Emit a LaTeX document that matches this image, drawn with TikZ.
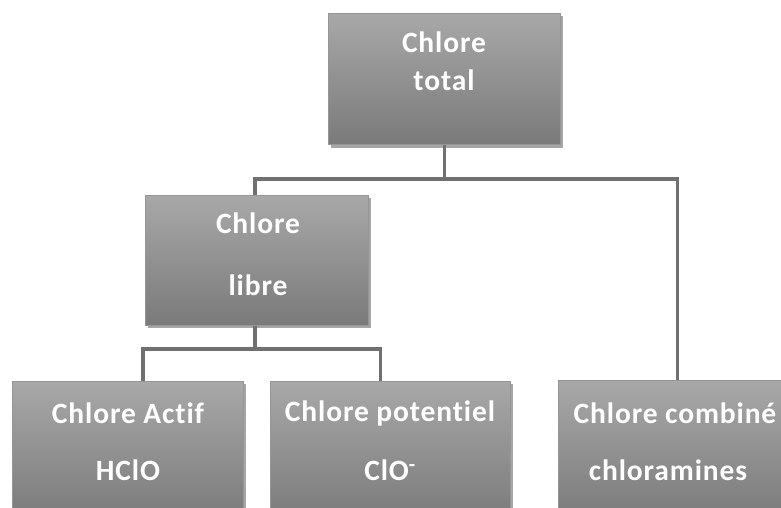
\documentclass[tikz,border=0pt]{standalone}
\usepackage{fontspec}
\setmainfont{Carlito}[LetterSpace=3, Ligatures=NoCommon]
\usetikzlibrary{calc}
\definecolor{boxtop}{RGB}{168,168,168}
\definecolor{boxbot}{RGB}{122,122,122}
\definecolor{linec}{RGB}{112,112,112}
\tikzset{
  gbox/.style={rectangle, draw={rgb,255:red,150;green,150;blue,150}, line width=1pt,
    top color=boxtop, bottom color=boxbot, inner sep=0pt, anchor=north west},
  shadowbox/.style={fill=black, opacity=0.35},
  conn/.style={draw=linec, line width=3.5pt},
  lbl/.style={text=white, font=\bfseries\fontsize{29.5}{32}\selectfont, inner sep=0pt}
}
\begin{document}
\begin{tikzpicture}[x=1pt,y=-1pt]
\useasboundingbox (0,0) rectangle (781,508);
\clip (0,0) rectangle (781,508);
% shadows
\fill[shadowbox] (331,16) rectangle (563,148);
\fill[shadowbox] (148,198) rectangle (371,328);
\fill[shadowbox] (15,384) rectangle (246,520);
\fill[shadowbox] (273,384) rectangle (513,520);
\fill[shadowbox] (561,384) rectangle (800,520);
% boxes
\node[gbox, minimum width=232pt, minimum height=131pt] (tot) at (328,13) {};
\node[gbox, minimum width=223pt, minimum height=130pt] (lib) at (145,195) {};
\node[gbox, minimum width=231pt, minimum height=140pt] (act) at (12,381) {};
\node[gbox, minimum width=240pt, minimum height=140pt] (pot) at (270,381) {};
\node[gbox, minimum width=238pt, minimum height=140pt] (comb) at (558,380) {};
% connectors
\coordinate (jt) at ($(tot.south)+(0,34)$);
\coordinate (jl) at ($(lib.south)+(-2,23)$);
\draw[conn] (tot.south) -- (jt);
\draw[conn] (jt) -| ([xshift=-2pt]lib.north);
\draw[conn] (jt) -| ([xshift=0pt]comb.north);
\draw[conn] ([xshift=-2pt]lib.south) -- (jl);
\draw[conn] (jl) -| ([xshift=15pt]act.north);
\draw[conn] (jl) -| ([xshift=-10pt]pot.north);
% labels
\node[lbl] (t1) at (444,42) {Chlore};
\node[lbl] (t2) at (444,80) {total};
\node[lbl] (l1) at (258,223) {Chlore};
\node[lbl] (l2) at (258,285) {libre};
\node[lbl] (a1) at (128,413) {Chlore Actif};
\node[lbl] (a2) at (128,470) {HClO};
\node[lbl] (p1) at (390,413) {Chlore potentiel};
\node[lbl] (p2) at (390,470) {ClO\textsuperscript{-}};
\node[lbl] (c1) at (675,413) {Chlore combiné};
\node[lbl] (c2) at (668,470) {chloramines};
\end{tikzpicture}
\end{document}
